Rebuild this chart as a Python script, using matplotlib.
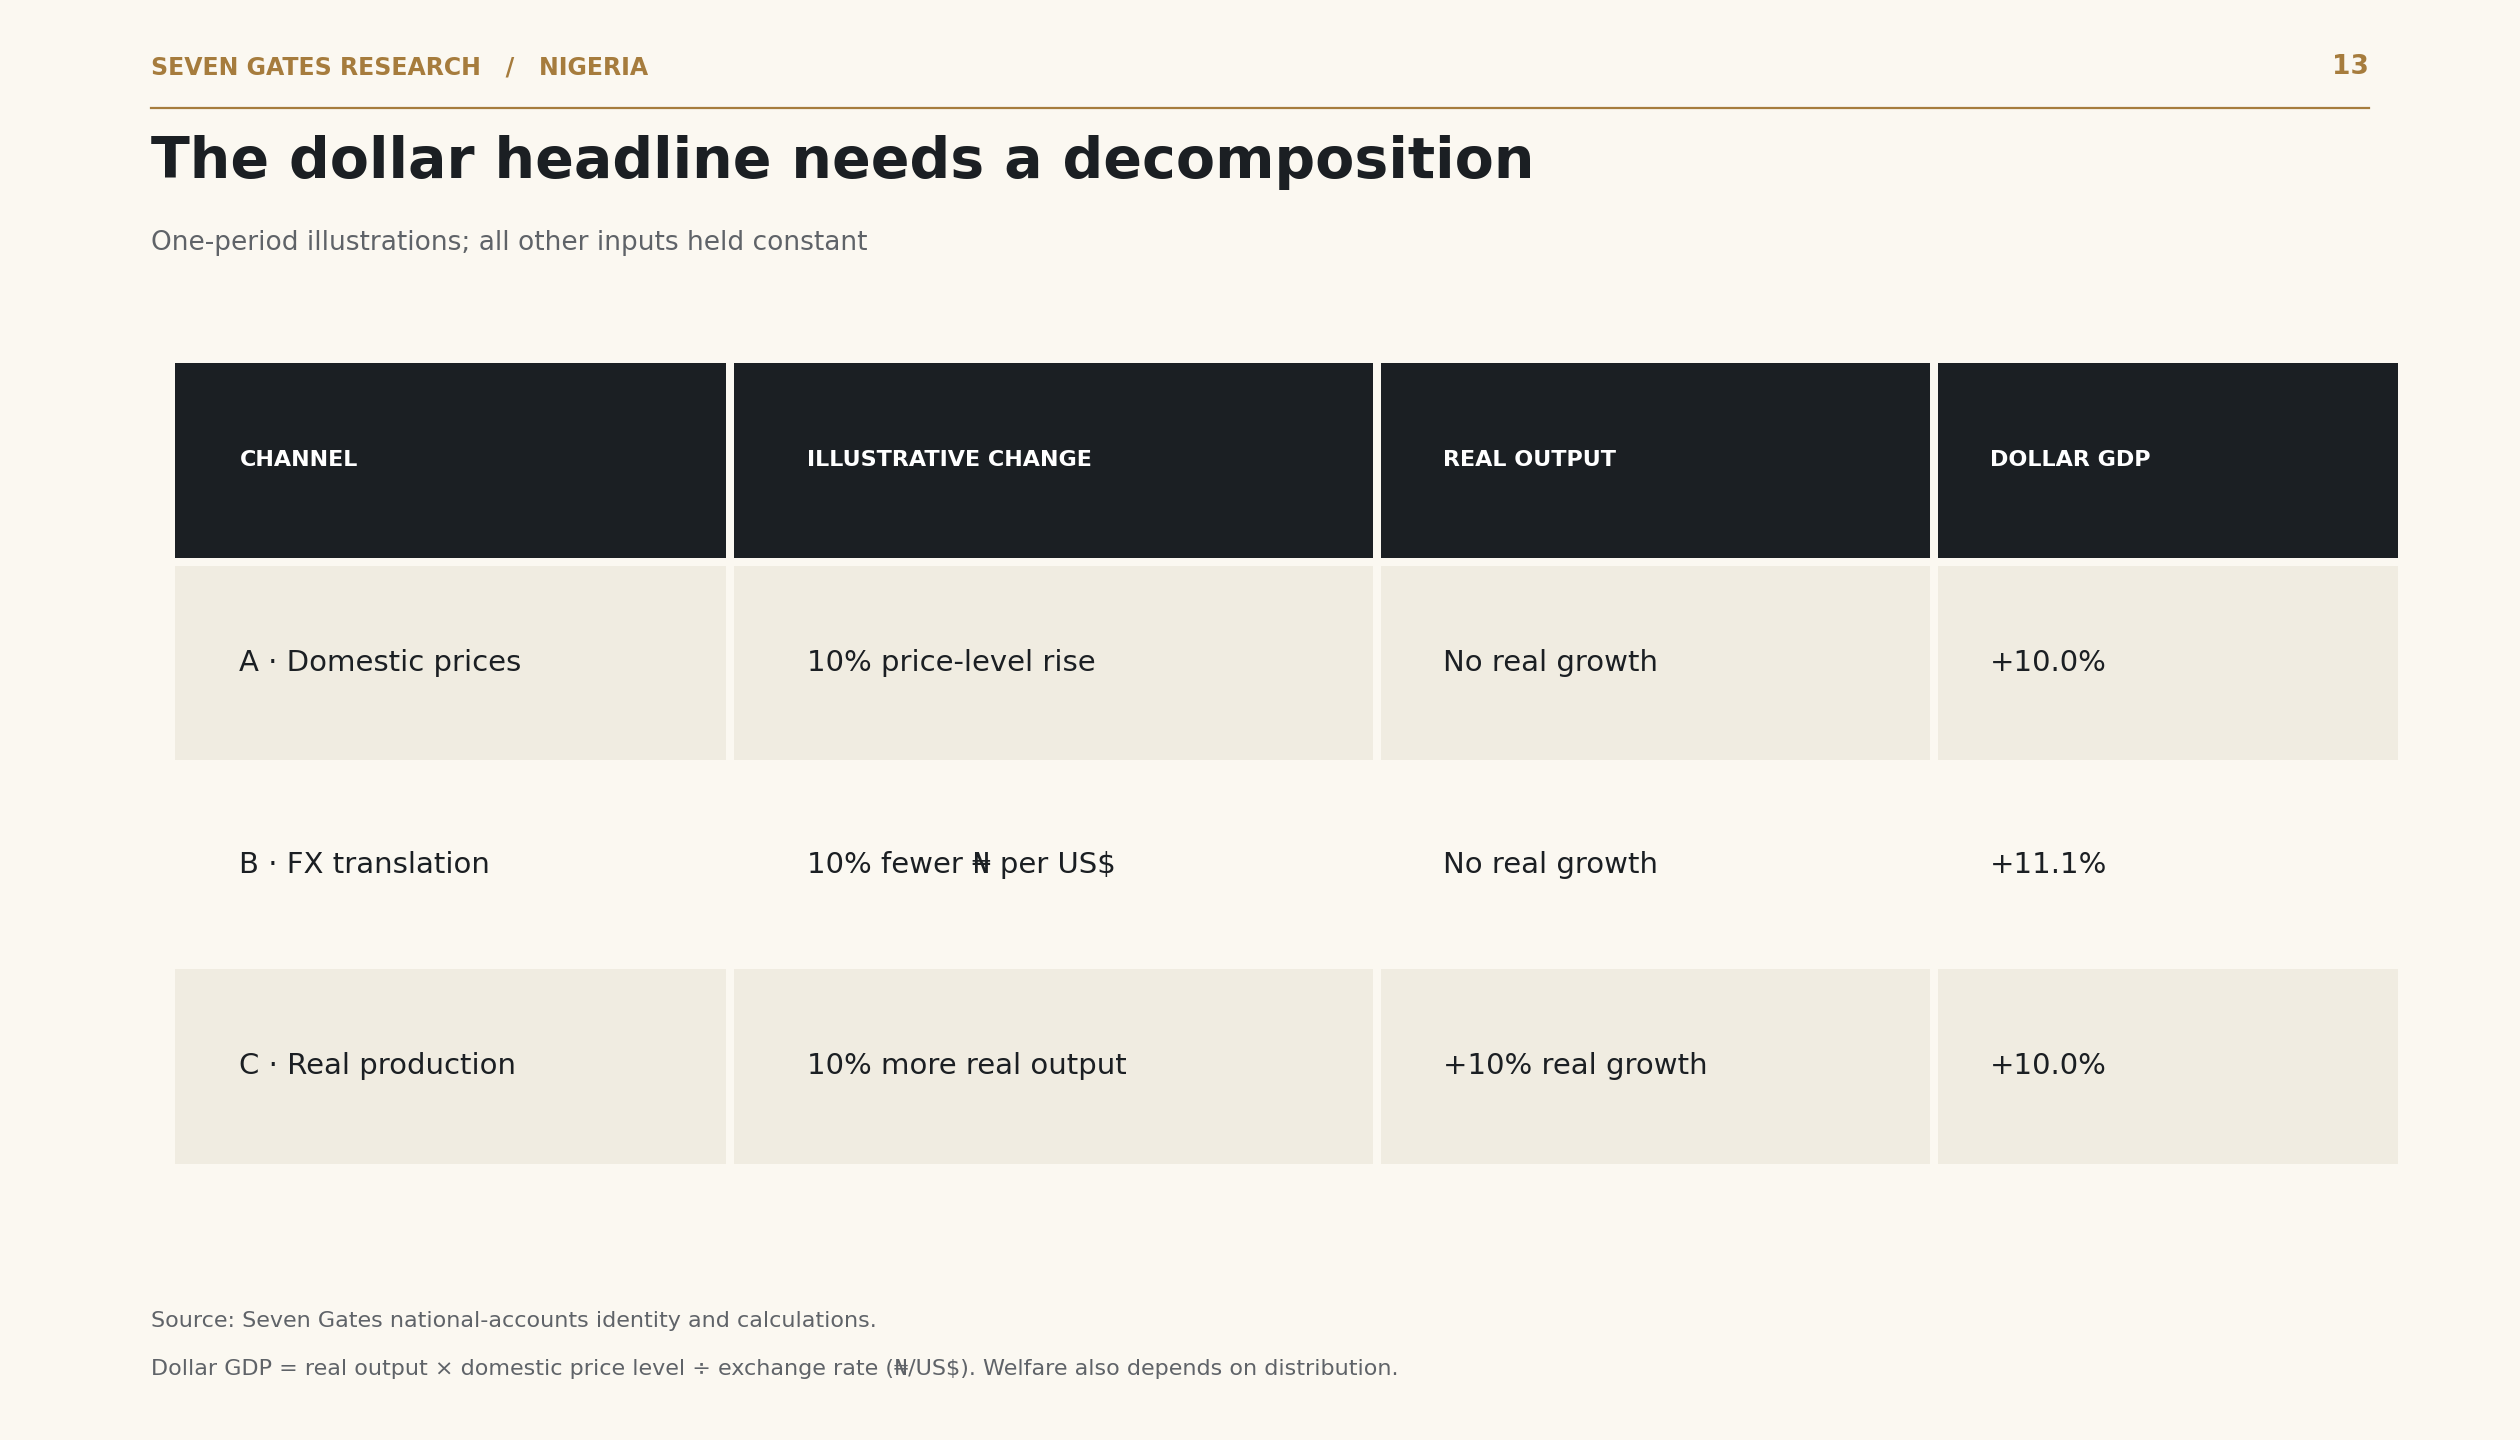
import matplotlib
matplotlib.use("Agg")
import matplotlib.pyplot as plt
from matplotlib.patches import Rectangle

# table content
columns = ["CHANNEL", "ILLUSTRATIVE CHANGE", "REAL OUTPUT", "DOLLAR GDP"]
channels = ["A · Domestic prices", "B · FX translation", "C · Real production"]
changes = ["10% price-level rise", "10% fewer ₦ per US$", "10% more real output"]
real_output = ["No real growth", "No real growth", "+10% real growth"]
dollar_gdp = ["+10.0%", "+11.1%", "+10.0%"]

BG = "#FBF8F1"
HEAD = "#1B1F23"
STRIPE = "#F0ECE1"
GOLD = "#A67C3D"
GREY = "#5F6368"

W, H = 1568, 896
fig = plt.figure(figsize=(12.6, 7.2), dpi=200, facecolor=BG)
ax = fig.add_axes([0, 0, 1, 1])
ax.set_xlim(0, W)
ax.set_ylim(H, 0)
ax.axis("off")

ax.text(94, 42, "SEVEN GATES RESEARCH   /   NIGERIA", color=GOLD, fontsize=8.5,
        fontweight="bold", va="center")
ax.text(1474, 42, "13", color=GOLD, fontsize=9.5, fontweight="bold", va="center", ha="right")
ax.plot([94, 1474], [67, 67], color=GOLD, lw=0.8)
ax.text(94, 101, "The dollar headline needs a decomposition", color=HEAD, fontsize=20.5,
        fontweight="bold", va="center")
ax.text(94, 151, "One-period illustrations; all other inputs held constant", color=GREY,
        fontsize=9.5, va="center")

col_x = [109, 457, 859, 1206]
col_w = [343, 397, 342, 286]
text_x = [149, 502, 898, 1238]
row_y = [226, 352, 478, 603]
row_h = 121

for j, name in enumerate(columns):
    ax.add_patch(Rectangle((col_x[j], row_y[0]), col_w[j], row_h, color=HEAD, lw=0))
    ax.text(text_x[j], row_y[0] + row_h / 2, name, color="white", fontsize=8,
            fontweight="bold", va="center")

rows = list(zip(channels, changes, real_output, dollar_gdp))
for i, row in enumerate(rows):
    y = row_y[i + 1]
    for j, val in enumerate(row):
        if i % 2 == 0:
            ax.add_patch(Rectangle((col_x[j], y), col_w[j], row_h, color=STRIPE, lw=0))
        ax.text(text_x[j], y + row_h / 2, val, color=HEAD, fontsize=10.5, va="center")

ax.text(94, 822, "Source: Seven Gates national-accounts identity and calculations.",
        color=GREY, fontsize=8, va="center")
ax.text(94, 852, "Dollar GDP = real output × domestic price level ÷ exchange rate (₦/US$). "
        "Welfare also depends on distribution.", color=GREY, fontsize=8, va="center")

fig.savefig("out.png", dpi=200, facecolor=BG)
